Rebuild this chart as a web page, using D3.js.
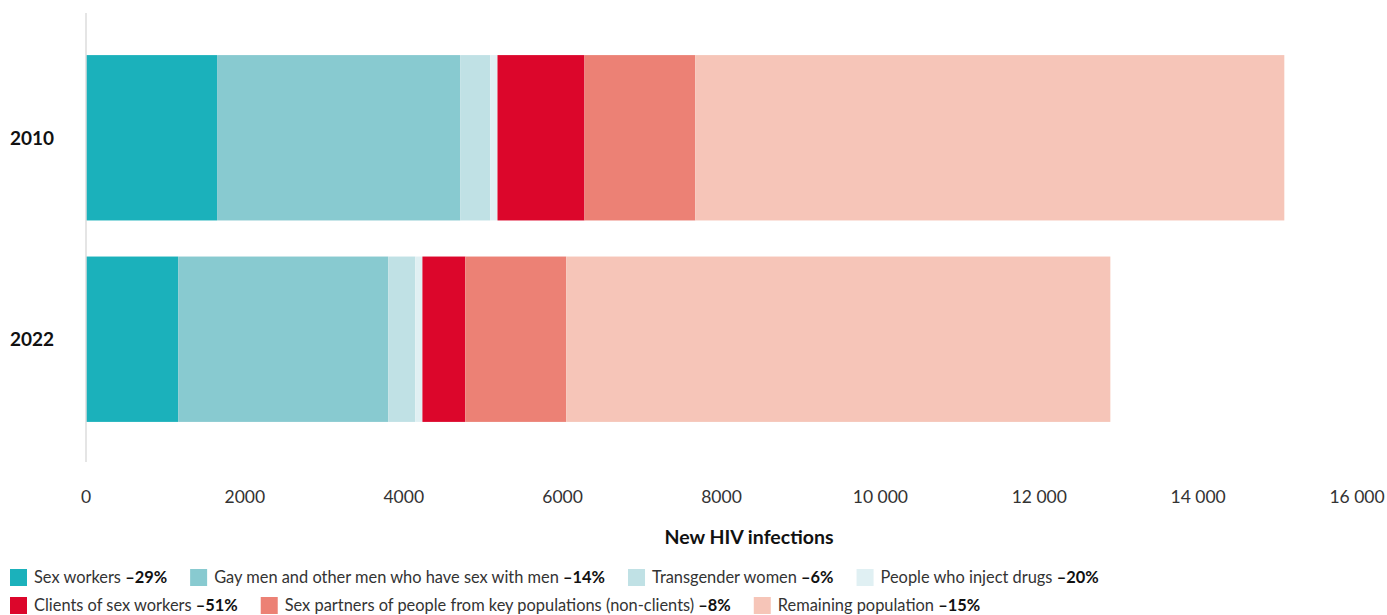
<!DOCTYPE html>
<html><head><meta charset="utf-8">
<script src="https://cdn.jsdelivr.net/npm/d3@7"></script>
<style>body{margin:0;background:#fff;font-family:Lato,"Open Sans",sans-serif}</style>
</head><body><svg id="c" width="1387" height="615"></svg>
<script>
const years = ["2010", "2022"];
const seriesNames = ["Sex workers", "Gay men and other men who have sex with men", "Transgender women", "People who inject drugs", "Clients of sex workers", "Sex partners of people from key populations (non-clients)", "Remaining population"];
const seriesChange = ["–29%", "–14%", "–6%", "–20%", "–51%", "–8%", "–15%"];
const seriesColors = ["#1bb1bb", "#88cad0", "#c0e1e5", "#e0f0f3", "#dc062b", "#ec8175", "#f6c5b8"];
const values2010 = [1650, 3060, 380, 90, 1095, 1395, 7415];
const values2022 = [1160, 2645, 340, 90, 540, 1270, 6850];
const xTicks = [0, 2000, 4000, 6000, 8000, 10000, 12000, 14000, 16000];

const svg = d3.select("#c");
const x = d3.scaleLinear().domain([0, 16000]).range([86, 1357]);
const y = d3.scaleBand().domain(years).range([13, 464]).paddingInner(36 / 201).paddingOuter(42 / 201);

const rows = [values2010, values2022].map((v, i) => {
  const o = {year: years[i]};
  seriesNames.forEach((s, j) => o[s] = v[j]);
  return o;
});
const stacked = d3.stack().keys(seriesNames)(rows);

svg.append("g").selectAll("g").data(stacked).join("g")
  .attr("fill", (d, i) => seriesColors[i])
  .selectAll("rect").data(d => d).join("rect")
  .attr("x", d => x(d[0])).attr("width", d => x(d[1]) - x(d[0]))
  .attr("y", d => y(d.data.year)).attr("height", y.bandwidth());

svg.append("line").attr("x1", 86).attr("x2", 86).attr("y1", 13).attr("y2", 462)
  .attr("stroke", "#dcdcdc").attr("stroke-width", 1.5);

svg.append("g").selectAll("text").data(xTicks).join("text")
  .attr("x", d => x(d)).attr("y", 503).attr("text-anchor", "middle")
  .attr("font-size", 17.5).attr("fill", "#333")
  .text(d => d >= 10000 ? String(Math.floor(d / 1000)) + " 000" : String(d));

svg.append("g").selectAll("text").data(years).join("text")
  .attr("x", 10).attr("y", d => y(d) + y.bandwidth() / 2 + 7)
  .attr("font-size", 19).attr("font-weight", "bold").attr("fill", "#111")
  .text(d => d);

svg.append("text").attr("x", 749).attr("y", 544).attr("text-anchor", "middle")
  .attr("font-size", 19.5).attr("font-weight", "bold").attr("fill", "#111")
  .text("New HIV infections");

const legendRows = [[0, 1, 2, 3], [4, 5, 6]];
const lg = svg.append("g");
legendRows.forEach((r, ri) => {
  let cx = 10;
  const cy = 569 + ri * 28;
  r.forEach(i => {
    lg.append("rect").attr("x", cx).attr("y", cy).attr("width", 17).attr("height", 17).attr("fill", seriesColors[i]);
    const t = lg.append("text").attr("x", cx + 24).attr("y", cy + 14).attr("font-size", 16.4).attr("fill", "#333");
    t.append("tspan").text(seriesNames[i] + " ");
    t.append("tspan").attr("font-weight", "bold").attr("fill", "#111").text(seriesChange[i]);
    cx += 24 + t.node().getComputedTextLength() + 23;
  });
});
</script></body></html>
